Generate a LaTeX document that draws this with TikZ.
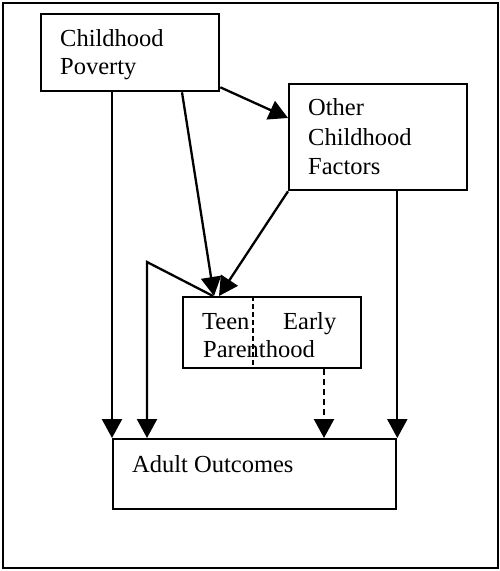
\documentclass[tikz,border=0pt]{standalone}
\usepackage{fontspec}
\setmainfont{Liberation Serif}
\usetikzlibrary{arrows.meta,calc}
\begin{document}
\begin{tikzpicture}[x=1pt,y=-1pt,
 box/.style={draw,line width=2.3pt,rectangle,inner sep=0pt,anchor=north west},
 txt/.style={anchor=base west,inner sep=0pt,font=\fontsize{24.5}{29}\selectfont},
 arr/.style={line width=2.3pt,-{Triangle[length=19pt,width=20pt]}},
 ]
\useasboundingbox (0,0) rectangle (500,571);
\draw[line width=2.3pt] (3,3) rectangle (498,568);
% boxes
\node[box,minimum width=178pt,minimum height=77pt] (pov) at (40,13) {};
\node[box,minimum width=178pt,minimum height=106pt] (oth) at (288,83) {};
\node[box,minimum width=178pt,minimum height=71pt] (tep) at (182,296) {};
\node[box,minimum width=283pt,minimum height=70pt] (ao) at (112,438) {};
% texts
\node[txt] (t1) at (60,46) {Childhood};
\node[txt] (t2) at (60,74) {Poverty};
\node[txt] (t3) at (308,115) {Other};
\node[txt] (t4) at (308,145) {Childhood};
\node[txt] (t5) at (308,174) {Factors};
\node[txt] (t6) at (202,329) {Teen};
\node[txt] (t7) at (283,329) {Early};
\node[txt] (t8) at (203,357) {Parenthood};
\node[txt] (t9) at (132,472) {Adult Outcomes};
% divider in teen box
\draw[line width=1.6pt,dash pattern=on 5pt off 3pt] ($(tep.north west)+(71,0)$) -- ($(tep.south west)+(71,0)$);
% connectors
\draw[arr] (pov.south -| ao.north west) -- (ao.north west);
\draw[arr] ($(pov.south east)+(0,-5)$) -- ($(oth.north west)+(0,35)$);
\draw[arr] ($(pov.south west)+(142,0)$) -- ($(tep.north west)+(32,0)$);
\draw[arr] (oth.south west) -- ($(tep.north west)+(37,0)$);
\coordinate (fb) at (147,262);
\draw[arr] ($(tep.north west)+(31,0)$) -- (fb) -- ($(ao.north west)+(35,0)$);
\draw[arr,dash pattern=on 6pt off 4pt] ($(tep.south west)+(142,0)$) -- ($(ao.north west)+(212,0)$);
\draw[arr] (oth.south -| ao.north east) -- (ao.north east);
\end{tikzpicture}
\end{document}
